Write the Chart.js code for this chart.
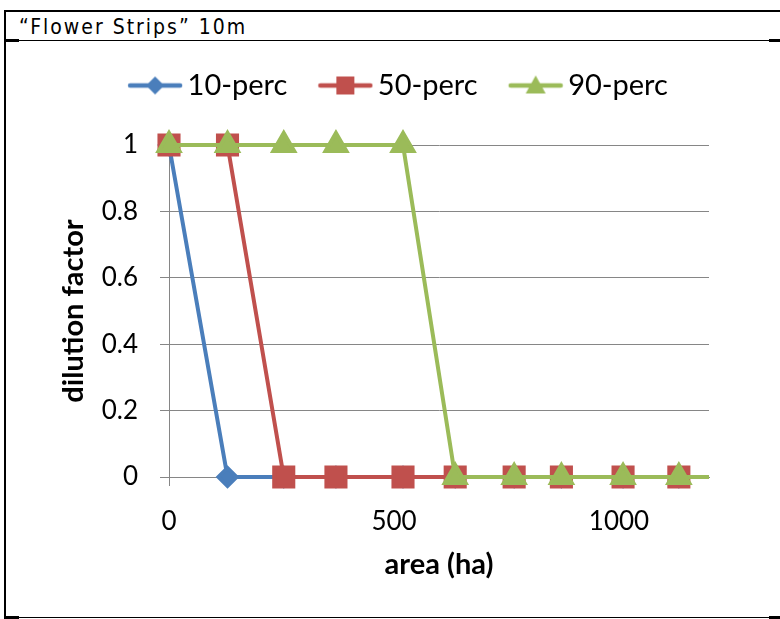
<!DOCTYPE html>
<html lang="en">
<head>
  <meta charset="UTF-8" />
  <title>Flower Strips 10m</title>
  <script src="https://cdn.jsdelivr.net/npm/chart.js"></script>
  <style>
    html, body { margin: 0; padding: 0; background: #fff; }
    body { width: 780px; height: 619px; position: relative; overflow: hidden; }
    /* table-like frame round the chart */
    #frame { position: absolute; left: 4px; top: 10px; width: 790px; height: 607px;
             border-left: 2px solid #000; border-top: 2px solid #000; }
    #header { position: absolute; left: 19px; top: 15px;
              font-family: "Liberation Sans Narrow", "DejaVu Sans Condensed", sans-serif;
              font-size: 21px; letter-spacing: 2px; color: #000; white-space: nowrap; }
    .rule { position: absolute; height: 1px; background: #000; }
    .stub { position: absolute; height: 3px; background: #000; }
    #chartBox { position: absolute; left: 6px; top: 41px; width: 768px; height: 575px; }
  </style>
</head>
<body>
  <div id="frame"></div>
  <div id="header">“Flower Strips” 10m</div>
  <div class="rule" style="left:6px; top:40px; width:764px;"></div>
  <div class="stub" style="left:6px; top:39px; width:13px;"></div>
  <div class="stub" style="left:769px; top:39px; width:11px;"></div>
  <div class="rule" style="left:6px; top:617px; width:764px;"></div>
  <div class="stub" style="left:6px; top:616px; width:13px;"></div>
  <div class="stub" style="left:769px; top:616px; width:11px;"></div>

  <div id="chartBox"><canvas id="myChart"></canvas></div>

  <script>
    // area (ha) of each point, last one lies past the axis end
    const areaHa = [0, 130, 255, 371, 520, 636, 767, 872, 1009, 1133, 1260];
    const perc10 = [1, 0, 0, 0, 0, 0, 0, 0, 0, 0, 0];
    const perc50 = [1, 1, 0, 0, 0, 0, 0, 0, 0, 0, 0];
    const perc90 = [1, 1, 1, 1, 1, 0, 0, 0, 0, 0, 0];
    const seriesNames = ['10-perc', '50-perc', '90-perc'];
    const xTicks = [0, 500, 1000];
    const yTicks = [0, 0.2, 0.4, 0.6, 0.8, 1];

    const blue = '#4A7EBB', red = '#C0504D', green = '#9BBB59';
    const gridGrey = '#868686';
    const tickFont = { family: 'Lato', size: 26 };
    const titleFont = { family: 'Lato', size: 29, weight: 'bold' };

    function pts(ys) {
      return areaHa.map((x, i) => ({ x: x, y: ys[i] }));
    }

    // legend icon: short line with the marker in the middle, kept on the
    // right side of the canvas so there is room between the legend items
    function legendIcon(color, shape) {
      const c = document.createElement('canvas');
      c.width = 86; c.height = 24;
      const g = c.getContext('2d');
      g.translate(30, 0);
      g.strokeStyle = color; g.lineWidth = 4.5; g.lineCap = 'round';
      g.beginPath(); g.moveTo(3, 12); g.lineTo(53, 12); g.stroke();
      g.fillStyle = color;
      g.beginPath();
      if (shape === 'diamond') {
        g.moveTo(28, 3); g.lineTo(37, 12); g.lineTo(28, 21); g.lineTo(19, 12);
      } else if (shape === 'square') {
        g.rect(19, 3, 18, 18);
      } else {
        g.moveTo(28, 2); g.lineTo(38, 20); g.lineTo(18, 20);
      }
      g.closePath(); g.fill();
      return c;
    }
    const icons = [legendIcon(blue, 'diamond'), legendIcon(red, 'square'), legendIcon(green, 'triangle')];

    const clipArea = { left: 20, top: 20, right: 0, bottom: 20 };

    // legend needs a little more room under it, and sits a bit to the right
    const legendSpacing = {
      id: 'legendSpacing',
      beforeInit(chart) {
        const fit = chart.legend.fit;
        chart.legend.fit = function () {
          fit.bind(chart.legend)();
          this.height += 35;
        };
      },
      afterLayout(chart) {
        chart.legend.left += 30;
        chart.legend.right += 30;
      }
    };

    new Chart(document.getElementById('myChart'), {
      type: 'scatter',
      data: {
        datasets: [
          { label: seriesNames[0], data: pts(perc10), showLine: true, order: 3,
            borderColor: blue, backgroundColor: blue, borderWidth: 4,
            pointStyle: 'rectRot', pointRadius: 9, pointHoverRadius: 9,
            pointBorderColor: blue, pointBackgroundColor: blue, clip: clipArea },
          { label: seriesNames[1], data: pts(perc50), showLine: true, order: 2,
            borderColor: red, backgroundColor: red, borderWidth: 4,
            pointStyle: 'rect', pointRadius: 13.5, pointHoverRadius: 13.5,
            pointBorderColor: red, pointBackgroundColor: red, clip: clipArea },
          { label: seriesNames[2], data: pts(perc90), showLine: true, order: 1,
            borderColor: green, backgroundColor: green, borderWidth: 4,
            pointStyle: 'triangle', pointRadius: 12, pointHoverRadius: 12,
            pointBorderColor: green, pointBackgroundColor: green, clip: clipArea }
        ]
      },
      options: {
        responsive: true,
        maintainAspectRatio: false,
        animation: false,
        layout: { padding: { left: 0, right: 65, top: 20, bottom: 0 } },
        plugins: {
          tooltip: { enabled: false },
          legend: {
            position: 'top',
            labels: {
              usePointStyle: true,
              pointStyleWidth: 66,
              padding: 10,
              color: '#000',
              font: { family: 'Lato', size: 29 },
              sort: (a, b) => a.datasetIndex - b.datasetIndex,
              generateLabels(chart) {
                const items = Chart.defaults.plugins.legend.labels.generateLabels(chart);
                items.forEach(it => { it.pointStyle = icons[it.datasetIndex]; });
                return items;
              }
            }
          }
        },
        scales: {
          x: {
            type: 'linear',
            min: 0, max: 1200,
            afterBuildTicks(scale) { scale.ticks = xTicks.map(v => ({ value: v })); },
            afterFit(scale) { scale.height = 139; },
            ticks: { color: '#000', font: tickFont, padding: 20, maxRotation: 0,
                     callback: v => String(v) },
            grid: {
              drawOnChartArea: false, tickLength: 9,
              color: ctx => (ctx.tick && ctx.tick.value === 0 ? gridGrey : 'rgba(0,0,0,0)')
            },
            border: { color: gridGrey },
            title: { display: true, text: 'area (ha)', color: '#000', font: titleFont,
                     padding: { top: 0, bottom: 34 } }
          },
          y: {
            min: 0, max: 1,
            afterBuildTicks(scale) { scale.ticks = yTicks.map(v => ({ value: v })); },
            afterFit(scale) { scale.width = 163; },
            ticks: { color: '#000', font: tickFont, padding: 22,
                     callback: v => String(v) },
            grid: { color: gridGrey, tickLength: 9 },
            border: { color: gridGrey },
            title: { display: true, text: 'dilution factor', color: '#000', font: titleFont,
                     padding: { top: 50, bottom: 0 } }
          }
        }
      },
      plugins: [legendSpacing]
    });
  </script>
</body>
</html>
